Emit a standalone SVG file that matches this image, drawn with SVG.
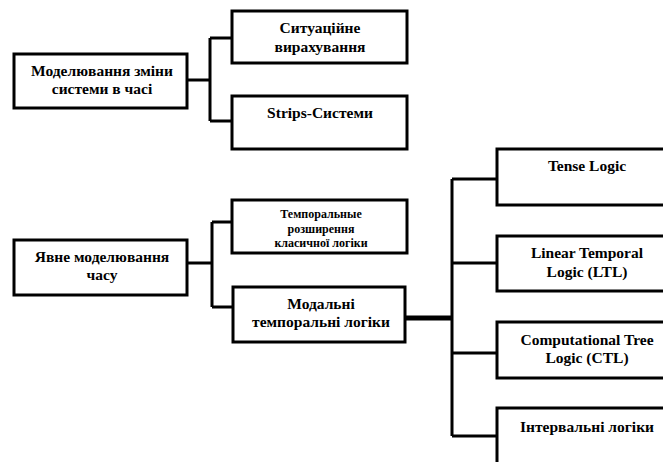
<svg xmlns="http://www.w3.org/2000/svg" width="663" height="462" viewBox="0 0 663 462">
<style>
.box{fill:#fff;stroke:#000;stroke-width:3}
.ln{fill:none;stroke:#000;stroke-width:3}
.thick{fill:none;stroke:#000;stroke-width:5}
.t{font-weight:bold;font-size:15.5px;fill:#000;text-anchor:middle}
.sm{font-size:12px}
</style>
<rect width="663" height="462" fill="#fff"/>
<g id="connectors">
<path class="ln" d="M188 80H210M210 38V121M210 38H231M210 121H231"/>
<path class="ln" d="M188 263H212M212 222V307M212 222H232M212 307H232"/>
<path class="thick" d="M406 318H452"/>
<path class="ln" d="M452 179V436M452 179H497M452 263H497M452 353H497M452 436H497"/>
</g>
<g class="t" font-family="'Liberation Serif', 'DejaVu Serif', 'Times New Roman', serif">
<g id="n1"><rect class="box" x="14" y="54" width="173" height="54"/><text x="102" y="76">Моделювання зміни</text><text x="102" y="94">системи в часі</text></g>
<g id="n2"><rect class="box" x="232" y="11" width="175" height="52"/><text x="320" y="33">Ситуаційне</text><text x="320" y="52">вирахування</text></g>
<g id="n3"><rect class="box" x="232" y="96" width="175" height="53"/><text x="320" y="118">Strips-Системи</text></g>
<g id="n4"><rect class="box" x="14" y="240" width="173" height="55"/><text x="102" y="262">Явне моделювання</text><text x="102" y="280">часу</text></g>
<g id="n5"><rect class="box" x="232" y="200" width="175" height="53"/><text class="sm" x="321" y="218">Темпоральные</text><text class="sm" x="321" y="233">розширення</text><text class="sm" x="321" y="247">класичної логіки</text></g>
<g id="n6"><rect class="box" x="233" y="287" width="172" height="55"/><text x="321" y="309">Модальні</text><text x="321" y="327">темпоральні логіки</text></g>
<g id="n7"><rect class="box" x="497" y="149" width="175" height="56"/><text x="587" y="171">Tense Logic</text></g>
<g id="n8"><rect class="box" x="497" y="236" width="175" height="55"/><text x="587" y="258">Linear Temporal</text><text x="587" y="277">Logic (LTL)</text></g>
<g id="n9"><rect class="box" x="497" y="322" width="175" height="56"/><text x="587" y="345">Computational Tree</text><text x="587" y="363">Logic (CTL)</text></g>
<g id="n10"><rect class="box" x="497" y="408" width="175" height="60"/><text x="587" y="432">Інтервальні логіки</text></g>
</g>
</svg>
